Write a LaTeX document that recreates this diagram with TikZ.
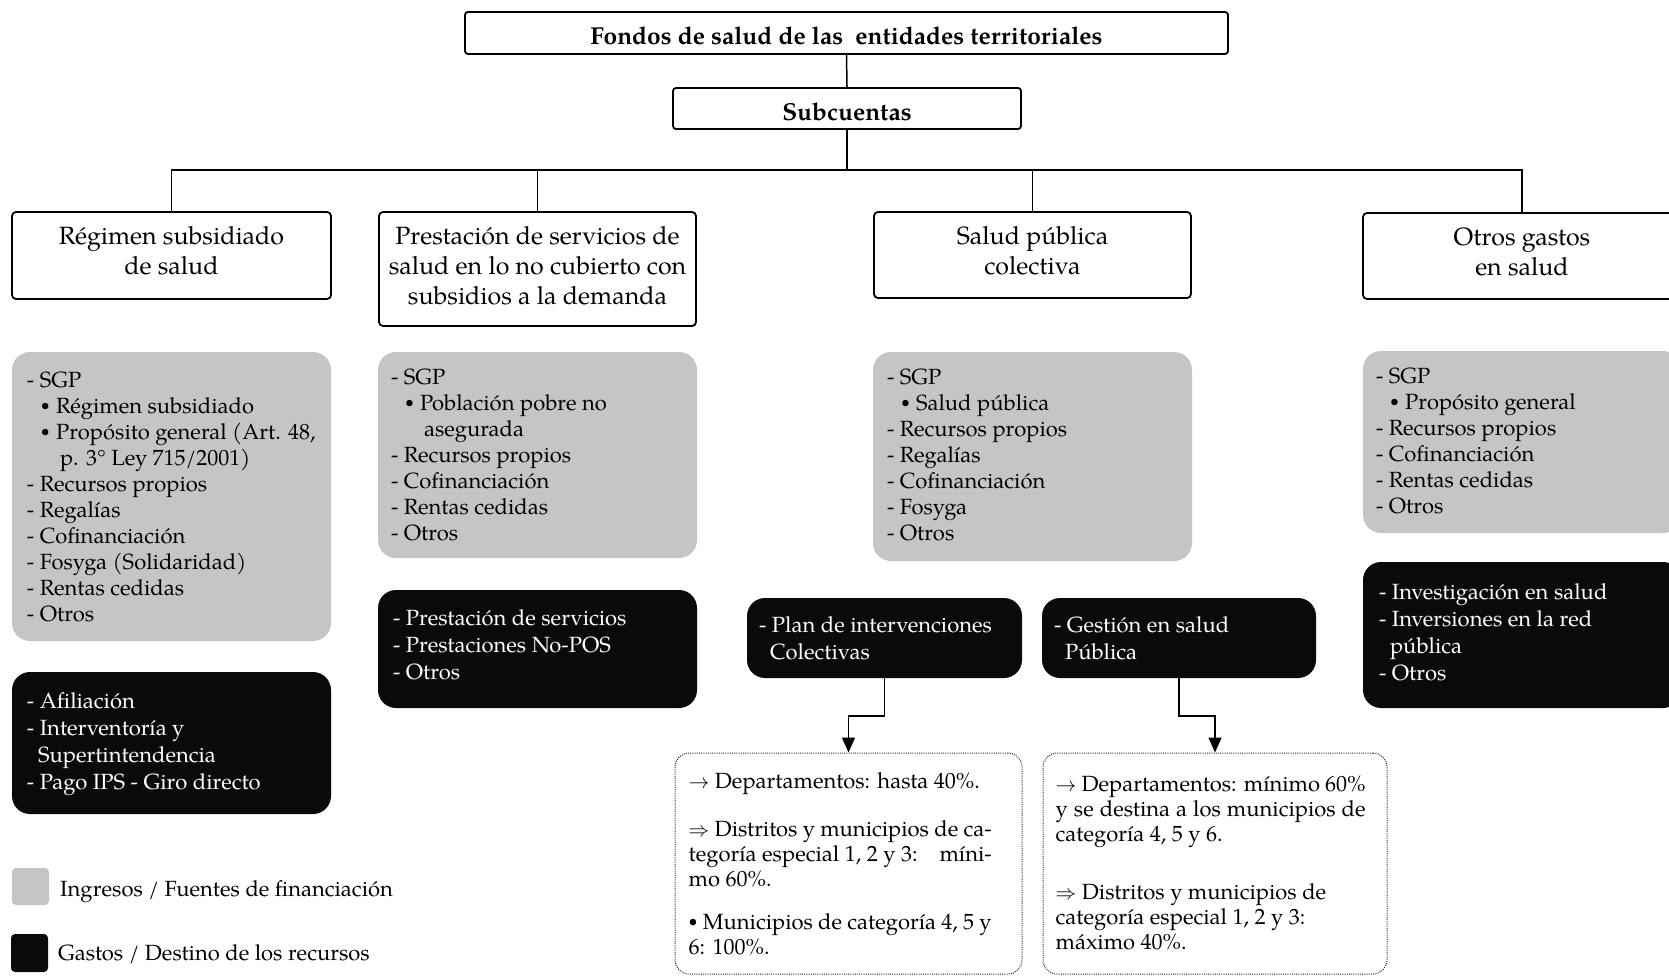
\documentclass[tikz,border=0pt]{standalone}
\usepackage{fontspec}
\usepackage{graphicx}
\IfFontExistsTF{TeX Gyre Pagella}{\setmainfont{TeX Gyre Pagella}}{\setmainfont{Liberation Serif}}
\usetikzlibrary{arrows.meta}
\definecolor{gfill}{RGB}{197,197,197}
\definecolor{bfill}{RGB}{10,10,10}
\newcommand{\smbul}{\raisebox{0.12em}{\scalebox{0.72}{\textbullet}}}
\newcommand{\mybul}[1]{\hspace*{14pt}\makebox[15pt][l]{\smbul}#1}
\newcommand{\mycont}[1]{\hspace*{33pt}#1}
\newcommand{\mydcont}[1]{\hspace*{11pt}#1}
\begin{document}
\begin{tikzpicture}[x=1pt,y=-1pt,
  hdshape/.style={draw=black,line width=1.8pt,rounded corners=4pt,fill=white,inner sep=0pt},
  ttlshape/.style={draw=black,line width=1.8pt,rounded corners=3pt,fill=white,inner sep=0pt},
  hdtext/.style={align=center,inner sep=0pt,font=\fontsize{25}{30}\selectfont},
  ttltext/.style={inner sep=0pt,font=\fontsize{24.5}{29}\selectfont\bfseries},
  gshape/.style={fill=gfill,rounded corners=18pt,inner sep=0pt},
  bshape/.style={fill=bfill,rounded corners=18pt,inner sep=0pt},
  dshape/.style={draw=black!85,line width=1pt,dash pattern=on 1pt off 1.2pt,rounded corners=14pt,inner sep=0pt},
  gtext/.style={anchor=west,align=left,inner sep=0pt,font=\fontsize{22}{26}\selectfont},
  btext/.style={anchor=west,align=left,inner sep=0pt,text=white,font=\fontsize{22}{27}\selectfont},
  dtext/.style={anchor=west,align=left,inner sep=0pt,font=\fontsize{22}{25}\selectfont},
  conn/.style={draw=black,line width=1.5pt},
  arr/.style={conn,-{Triangle[width=13pt,length=15pt]}},
  leg/.style={anchor=west,inner sep=0pt,font=\fontsize{22}{26}\selectfont}
]
\useasboundingbox (0,0) rectangle (1669,976);
\clip (0,0) rectangle (1669,976);

% top levels
\node[ttlshape,minimum width=763pt,minimum height=42pt] (top) at (846.5,33) {};
\node[ttltext] (topt) at ([yshift=-3pt]top.center) {Fondos de salud de las~ entidades territoriales};
\node[ttlshape,minimum width=348pt,minimum height=41pt] (sub) at (847,108.5) {};
\node[ttltext] (subt) at ([yshift=-3pt]sub.center) {Subcuentas};
\coordinate (bus) at (847,170);

% headings
\node[hdshape,minimum width=319pt,minimum height=87pt] (reg) at (171.5,255.5) {};
\node[hdtext] (regt) at ([yshift=4.5pt]reg.center) {Régimen subsidiado\\de salud};
\node[hdshape,minimum width=317pt,minimum height=114pt] (pre) at (537.5,269) {};
\node[hdtext] (pret) at ([yshift=3pt]pre.center) {Prestación de servicios de\\salud en lo no cubierto con\\subsidios a la demanda};
\node[hdshape,minimum width=317pt,minimum height=86pt] (sal) at (1032.5,255) {};
\node[hdtext] (salt) at ([yshift=4.5pt]sal.center) {Salud pública\\colectiva};
\node[hdshape,minimum width=318pt,minimum height=86pt] (otr) at (1522,256) {};
\node[hdtext] (otrt) at ([yshift=4.5pt]otr.center) {Otros gastos\\en salud};

% connectors top
\draw[conn] (top.south) -- (sub.north);
\draw[conn] (sub.south) -- (bus);
\draw[conn] (reg.north) |- (bus) -| (otr.north);
\draw[conn] (pre.north) -- (pre.north |- bus);
\draw[conn] (sal.north) -- (sal.north |- bus);

% gray boxes
\node[gshape,minimum width=319pt,minimum height=289pt] (g1) at (171.5,496.5) {};
\node[gtext] (g1t) at ([xshift=15pt]g1.west) {- SGP\\
\mybul{Régimen subsidiado}\\
\mybul{Propósito general (Art. 48,}\\
\mycont{p. 3\textdegree{} Ley 715/2001)}\\
- Recursos propios\\
- Regalías\\
- Cofinanciación\\
- Fosyga (Solidaridad)\\
- Rentas cedidas\\
- Otros};

\node[gshape,minimum width=319pt,minimum height=206pt] (g2) at (537.5,455) {};
\node[gtext] (g2t) at ([xshift=13pt]g2.west) {- SGP\\
\mybul{Población pobre no}\\
\mycont{asegurada}\\
- Recursos propios\\
- Cofinanciación\\
- Rentas cedidas\\
- Otros};

\node[gshape,minimum width=319pt,minimum height=209pt] (g3) at (1032.5,456.5) {};
\node[gtext] (g3t) at ([xshift=14pt,yshift=2pt]g3.west) {- SGP\\
\mybul{Salud pública}\\
- Recursos propios\\
- Regalías\\
- Cofinanciación\\
- Fosyga\\
- Otros};

\node[gshape,minimum width=318pt,minimum height=182pt] (g4) at (1522,442) {};
\node[gtext] (g4t) at ([xshift=13pt,yshift=1pt]g4.west) {- SGP\\
\mybul{Propósito general}\\
- Recursos propios\\
- Cofinanciación\\
- Rentas cedidas\\
- Otros};

% black boxes
\node[bshape,minimum width=319pt,minimum height=142pt] (b1) at (171.5,743) {};
\node[btext] (b1t) at ([xshift=15pt,yshift=-1pt]b1.west) {- Afiliación\\
- Interventoría y\\
\mydcont{Supertintendencia}\\
- Pago IPS - Giro directo};

\node[bshape,minimum width=319pt,minimum height=118pt] (b2) at (537.5,649) {};
\node[btext] (b2t) at ([xshift=15pt,yshift=4.5pt]b2.west) {- Prestación de servicios\\
- Prestaciones No-POS\\
- Otros};

\node[bshape,minimum width=275pt,minimum height=80pt] (b3) at (884.5,638) {};
\node[btext] (b3t) at ([xshift=12pt]b3.west) {- Plan de intervenciones\\
\mydcont{Colectivas}};

\node[bshape,minimum width=274pt,minimum height=80pt] (b4) at (1179,638) {};
\node[btext] (b4t) at ([xshift=12pt]b4.west) {- Gestión en salud\\
\mydcont{Pública}};

\node[bshape,minimum width=318pt,minimum height=146pt] (b5) at (1522,635) {};
\node[btext] (b5t) at ([xshift=16pt,yshift=2.5pt]b5.west) {- Investigación en salud\\
- Inversiones en la red\\
\mydcont{pública}\\
- Otros};

% dotted boxes
\node[dshape,minimum width=347pt,minimum height=221pt] (d1) at (848.5,863.5) {};
\node[dtext] (d1t) at ([xshift=14pt]d1.west) {$\rightarrow$ Departamentos: hasta 40\%.\\[23pt]
\makebox[303pt][s]{$\Rightarrow$ Distritos y municipios de ca-}\\
\makebox[303pt][l]{tegoría especial 1, 2 y 3:\hfill míni-}\\
mo 60\%.\\[18pt]
\makebox[303pt][s]{\smbul\ Municipios de categoría 4, 5 y}\\
6: 100\%.};

\node[dshape,minimum width=344pt,minimum height=221pt] (d2) at (1215,863.5) {};
\node[dtext] (d2t) at ([xshift=13pt,yshift=1pt]d2.west) {\makebox[310pt][s]{$\rightarrow$ Departamentos: mínimo 60\%}\\
\makebox[310pt][s]{y se destina a los municipios de}\\
categoría 4, 5 y 6.\\[33pt]
$\Rightarrow$ Distritos y municipios de\\
categoría especial 1, 2 y 3:\\
máximo 40\%.};

% arrows
\draw[arr] (b3.south) -- ++(0,38) -| (d1.north);
\draw[arr] (b4.south) -- ++(0,38) -| (d2.north);

% legend
\node[fill=gfill,rounded corners=4pt,minimum width=37pt,minimum height=37pt,inner sep=0pt] (lg) at (30.5,886.5) {};
\node[leg] (lgt) at (60,892) {Ingresos / Fuentes de financiación};
\node[fill=bfill,rounded corners=4pt,minimum width=37pt,minimum height=38pt,inner sep=0pt] (lb) at (29.5,953) {};
\node[leg] (lbt) at (58,954.5) {Gastos / Destino de los recursos};
\end{tikzpicture}
\end{document}
